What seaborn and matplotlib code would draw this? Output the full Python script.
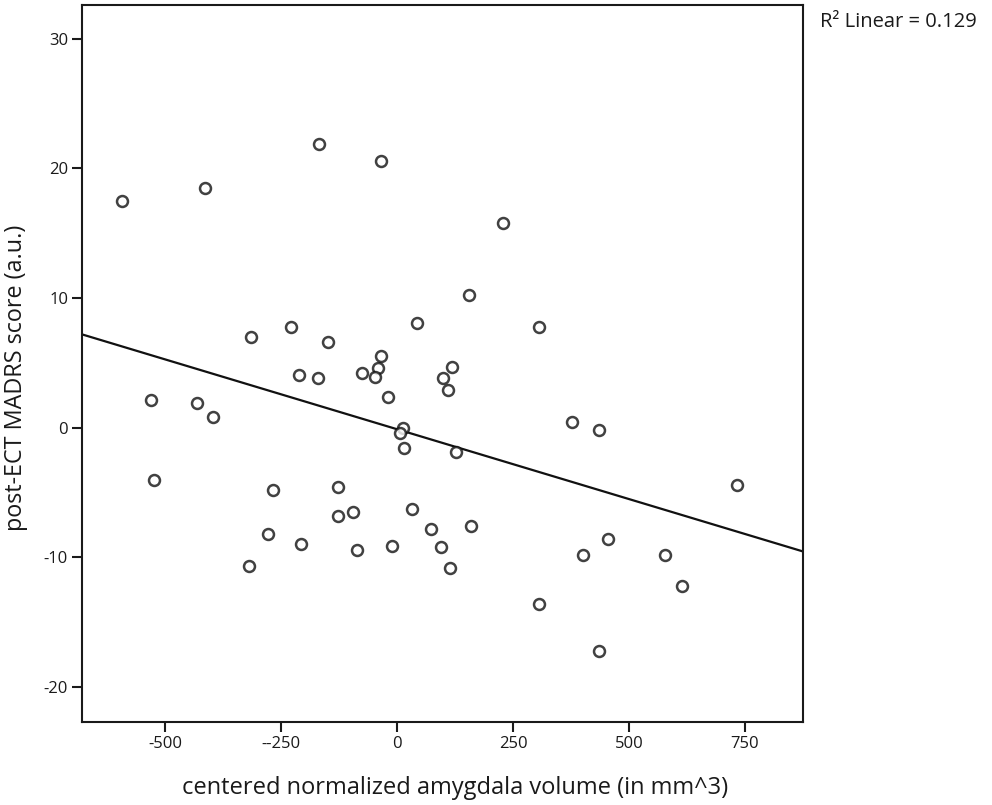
import matplotlib
matplotlib.use("Agg")
import matplotlib.pyplot as plt
import seaborn as sns
import pandas as pd

# Data
volume = [-592, -414, -168, -35, 228, 156, 44, 307, -315, -229, -149, -35, -40,
          -75, -47, -212, -170, 118, 99, 109, -19, -530, -431, -396, 12, 7, 15,
          127, 377, 436, -523, -268, -127, -127, -95, 33, 73, 160, -279, -207,
          -86, -11, 95, 114, -318, 732, 455, 401, 578, 615, 307, 435]
madrs = [17.5, 18.5, 21.9, 20.6, 15.8, 10.2, 8.1, 7.8, 7.0, 7.8, 6.6, 5.5, 4.6,
         4.2, 3.9, 4.05, 3.8, 4.7, 3.8, 2.9, 2.4, 2.1, 1.9, 0.8, 0.0, -0.4, -1.6,
         -1.9, 0.4, -0.15, -4.0, -4.8, -4.6, -6.8, -6.5, -6.3, -7.8, -7.6, -8.2, -9.0,
         -9.4, -9.1, -9.2, -10.85, -10.7, -4.4, -8.6, -9.8, -9.8, -12.2, -13.6, -17.2]
x_ticks = [-500, -250, 0, 250, 500, 750]
x_tick_labels = ["-500", "--250", "0", "250", "500", "750"]
y_ticks = [30, 20, 10, 0, -10, -20]
r2_text = "R\u00b2 Linear = 0.129"

df = pd.DataFrame({"volume": volume, "madrs": madrs})

sns.set_style("white")
plt.rcParams['font.family'] = ['Open Sans', 'DejaVu Sans']
plt.rcParams['axes.unicode_minus'] = False

fig = plt.figure(figsize=(9.92, 8.05), dpi=100)
ax = fig.add_axes([82/992, 1 - 722/805, (803-82)/992, (722-5)/805])
ax.set_xlim(-679, 875)
ax.set_ylim(-22.7, 32.6)

sns.regplot(data=df, x="volume", y="madrs", ax=ax, ci=None, truncate=False,
            scatter_kws=dict(s=62, facecolors="white", edgecolors="#111111",
                             linewidths=1.8, zorder=3),
            line_kws=dict(color="#111111", linewidth=1.6, zorder=2))

ax.set_xlim(-679, 875)
ax.set_ylim(-22.7, 32.6)
ax.set_xticks(x_ticks)
ax.set_xticklabels(x_tick_labels)
ax.set_yticks(y_ticks)
ax.tick_params(axis="both", direction="out", length=7, width=1.5, color="#1a1a1a",
               labelsize=12, labelcolor="#1a1a1a", pad=3, bottom=True, left=True)
for s in ax.spines.values():
    s.set_visible(True)
    s.set_linewidth(1.5)
    s.set_color("#1a1a1a")

ax.set_xlabel("centered normalized amygdala volume (in mm^3)", fontsize=17,
              color="#1a1a1a", labelpad=17)
ax.set_ylabel("post-ECT MADRS score (a.u.)", fontsize=16.8, color="#1a1a1a", labelpad=11)
ax.xaxis.label.set_x(0.517)
ax.yaxis.label.set_y(0.48)

fig.text(820/992, 1 - 22/805, r2_text, fontsize=14.5, color="#1a1a1a",
         ha="left", va="center")

fig.savefig("out.png", dpi=100, facecolor="white")
